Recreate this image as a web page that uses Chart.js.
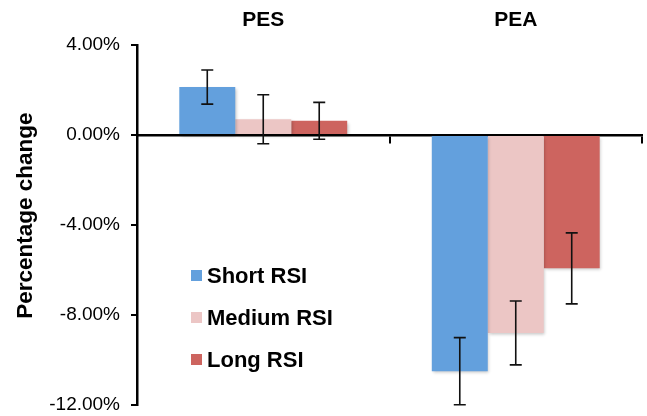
<!DOCTYPE html>
<html>
<head>
<meta charset="utf-8">
<script src="https://cdn.jsdelivr.net/npm/chart.js"></script>
<style>
  html, body { margin: 0; padding: 0; background: #fff; }
  #wrap { width: 647px; height: 416px; }
</style>
</head>
<body>
<div id="wrap"><canvas id="myChart" width="647" height="416"></canvas></div>
<script>
const categories = ["PES", "PEA"];
const seriesNames = ["Short RSI", "Medium RSI", "Long RSI"];
const shortRsi = [2.13, -10.5];
const mediumRsi = [0.7, -8.8];
const longRsi = [0.63, -5.93];
const shortErr = [0.76, 1.49];
const mediumErr = [1.09, 1.42];
const longErr = [0.82, 1.58];
const yTicks = [-12, -8, -4, 0, 4];

const colors = ["#63a0dd", "#ecc6c5", "#cd645f"];
const errors = [shortErr, mediumErr, longErr];
const FONT = "'Liberation Sans', Arial, sans-serif";

// soft drop shadow under the bars
const barShadow = {
  id: "barShadow",
  beforeDatasetDraw(chart) {
    const ctx = chart.ctx;
    ctx.save();
    ctx.shadowColor = "rgba(0,0,0,0.22)";
    ctx.shadowBlur = 3;
    ctx.shadowOffsetX = 1.5;
    ctx.shadowOffsetY = 2;
  },
  afterDatasetDraw(chart) {
    chart.ctx.restore();
  },
};

// error bars, positioned from the bar elements and the y scale
const errorBars = {
  id: "errorBars",
  afterDatasetsDraw(chart) {
    const ctx = chart.ctx;
    const y = chart.scales.y;
    ctx.save();
    ctx.strokeStyle = "#111";
    ctx.lineWidth = 1.6;
    chart.data.datasets.forEach((ds, i) => {
      const meta = chart.getDatasetMeta(i);
      meta.data.forEach((bar, j) => {
        const v = ds.data[j];
        const e = errors[i][j];
        const top = y.getPixelForValue(v + e);
        const bot = y.getPixelForValue(v - e);
        const x = bar.x;
        ctx.beginPath();
        ctx.moveTo(x, top);
        ctx.lineTo(x, bot);
        ctx.moveTo(x - 6, top);
        ctx.lineTo(x + 6, top);
        ctx.moveTo(x - 6, bot);
        ctx.lineTo(x + 6, bot);
        ctx.stroke();
      });
    });
    ctx.restore();
  },
};

// legend drawn inside the plot, lower left
const innerLegend = {
  id: "innerLegend",
  afterDraw(chart) {
    const ctx = chart.ctx;
    ctx.save();
    ctx.font = "bold 22px " + FONT;
    ctx.textBaseline = "middle";
    chart.data.datasets.forEach((ds, i) => {
      const cy = 276 + i * 42;
      ctx.fillStyle = ds.backgroundColor;
      ctx.fillRect(191, cy - 6, 11, 11);
      ctx.fillStyle = "#000";
      ctx.fillText(ds.label, 207, cy + 1);
    });
    ctx.restore();
  },
};

new Chart("myChart", {
  type: "bar",
  data: {
    labels: categories,
    datasets: [
      { label: seriesNames[0], data: shortRsi, backgroundColor: colors[0] },
      { label: seriesNames[1], data: mediumRsi, backgroundColor: colors[1] },
      { label: seriesNames[2], data: longRsi, backgroundColor: colors[2] },
    ],
  },
  options: {
    responsive: false,
    animation: false,
    layout: { padding: { left: 8, right: 5, top: 6, bottom: 0 } },
    datasets: { bar: { barPercentage: 1, categoryPercentage: 0.665 } },
    plugins: {
      legend: { display: false },
      tooltip: { enabled: false },
    },
    scales: {
      x: {
        position: { y: 0 },
        offset: true,
        ticks: { display: false },
        grid: {
          offset: true,
          drawOnChartArea: false,
          drawTicks: true,
          tickLength: 7,
          color: "#000",
          lineWidth: 2,
        },
        border: { color: "#000", width: 2.5 },
        afterFit(s) { s.height = 0; },
      },
      x2: {
        type: "category",
        position: "top",
        offset: true,
        grid: { display: false, drawTicks: false },
        border: { display: false },
        ticks: {
          color: "#000",
          padding: 12,
          font: { family: FONT, size: 21, weight: "bold" },
        },
        afterFit(s) { s.height = 39; },
      },
      y: {
        min: yTicks[0],
        max: yTicks[yTicks.length - 1],
        afterBuildTicks(scale) {
          scale.ticks = yTicks.map((v) => ({ value: v }));
        },
        ticks: {
          color: "#000",
          padding: 11,
          font: { family: FONT, size: 19, lineHeight: 0.01 },
          callback: (v) => v.toFixed(2) + "%",
        },
        grid: {
          drawOnChartArea: false,
          drawTicks: true,
          tickLength: 6,
          color: "#000",
          lineWidth: 2,
        },
        border: { color: "#000", width: 2.5 },
        title: {
          display: true,
          text: "   Percentage change",
          color: "#000",
          padding: { top: 4, bottom: 10 },
          font: { family: FONT, size: 22.5, weight: "bold" },
        },
        afterFit(s) { s.width = 129; },
      },
    },
  },
  plugins: [barShadow, errorBars, innerLegend],
});
</script>
</body>
</html>
